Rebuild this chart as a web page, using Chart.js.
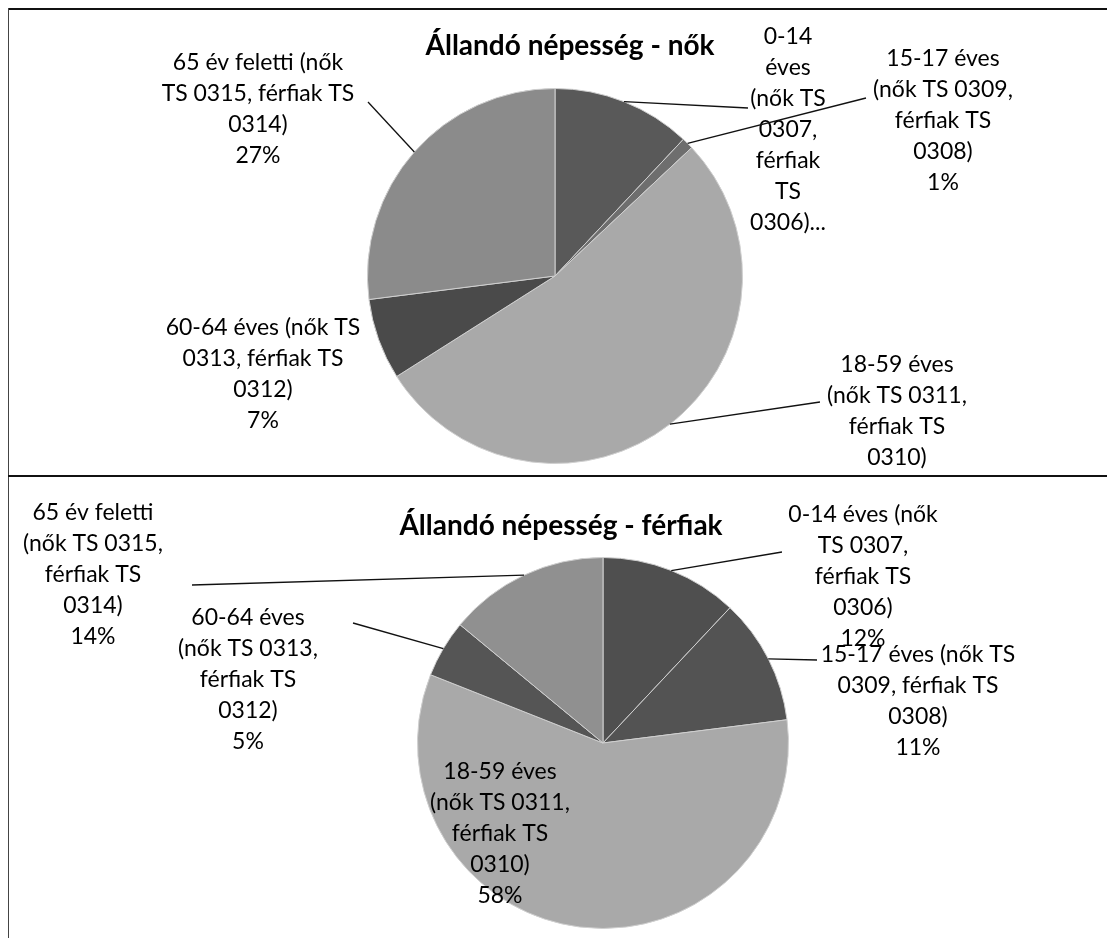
<!DOCTYPE html>
<html>
<head>
<meta charset="utf-8">
<script src="https://cdn.jsdelivr.net/npm/chart.js@4/dist/chart.umd.min.js"></script>
<style>
    body { margin: 0; background: #fff; }
    #page { position: relative; width: 1107px; height: 938px; overflow: hidden; background: #fff; }
    canvas { position: absolute; left: 0; }
    #nok { top: 0; }
    #ferfiak { top: 478px; }
    .rule { position: absolute; background: #111; }
</style>
</head>
<body>
<div id="page">
    <canvas id="nok" width="1107" height="476"></canvas>
    <canvas id="ferfiak" width="1107" height="460"></canvas>
    <div class="rule" style="left:8px; top:8px; width:1099px; height:2px;"></div>
    <div class="rule" style="left:8px; top:8px; width:1px; height:930px; background:#444;"></div>
    <div class="rule" style="left:8px; top:475px; width:1099px; height:2px;"></div>
</div>
<script>
// adatok
var korcsoportok = [
    '0-14 éves (nők TS 0307, férfiak TS 0306)',
    '15-17 éves (nők TS 0309, férfiak TS 0308)',
    '18-59 éves (nők TS 0311, férfiak TS 0310)',
    '60-64 éves (nők TS 0313, férfiak TS 0312)',
    '65 év feletti (nők TS 0315, férfiak TS 0314)'
];
var nokSzazalek = [12, 1, 53, 7, 27];
var ferfiakSzazalek = [12, 11, 58, 5, 14];

var nokSzinek = ['#595959', '#6e6e6e', '#a9a9a9', '#4a4a4a', '#8b8b8b'];
var ferfiakSzinek = ['#4f4f4f', '#535353', '#a9a9a9', '#555555', '#909090'];

// cimkek elhelyezese: szoveg kozepe, elso sor, szavak soronkent, vezetovonal vege
var nokCimkek = [
    { x: 788, y: 37, words: [1, 1, 2, 1, 1, 1, 1], line: [748, 108] },
    { x: 943, y: 59, words: [2, 3, 2, 1, 1], line: [866, 98] },
    { x: 897, y: 365, words: [2, 3, 2, 1, 1], line: [820, 402] },
    { x: 263, y: 328, words: [4, 3, 1, 1], line: null },
    { x: 258, y: 63, words: [4, 4, 1, 1], line: [368, 102] }
];
var ferfiakCimkek = [
    { x: 863, y: 37, words: [3, 2, 2, 1, 1], line: [782, 74] },
    { x: 918, y: 177, words: [4, 3, 1, 1], line: [817, 182] },
    { x: 500, y: 294, words: [2, 3, 2, 1, 1], line: null },
    { x: 248, y: 140, words: [2, 3, 2, 1, 1], line: [353, 145] },
    { x: 93, y: 35, words: [3, 3, 2, 1, 1], line: [192, 107] }
];

var sorMagassag = 31;

var calloutPlugin = {
    id: 'callouts',
    afterDraw: function(chart, args, opts) {
        var ctx = chart.ctx;
        var meta = chart.getDatasetMeta(0);
        var values = chart.data.datasets[0].data;
        var total = values.reduce(function(a, b) { return a + b; }, 0);

        ctx.save();
        ctx.fillStyle = '#000';
        ctx.textAlign = 'center';
        ctx.textBaseline = 'middle';
        ctx.font = 'bold 28px Lato';
        ctx.fillText(opts.title, opts.titleX, opts.titleY);

        ctx.font = '23px Lato';
        ctx.strokeStyle = '#111';
        ctx.lineWidth = 1.3;
        opts.labels.forEach(function(lab, i) {
            var arc = meta.data[i];
            if (lab.line) {
                var mid = (arc.startAngle + arc.endAngle) / 2;
                ctx.beginPath();
                ctx.moveTo(arc.x + Math.cos(mid) * arc.outerRadius, arc.y + Math.sin(mid) * arc.outerRadius);
                ctx.lineTo(lab.line[0], lab.line[1]);
                ctx.stroke();
            }
            var text = chart.data.labels[i] + ' ' + Math.round(values[i] / total * 100) + '%';
            var words = text.split(' ');
            var sorok = [];
            var k = 0;
            lab.words.forEach(function(n) {
                sorok.push(words.slice(k, k + n).join(' '));
                k += n;
            });
            if (k < words.length) {
                sorok[sorok.length - 1] += '...';
            }
            sorok.forEach(function(s, j) {
                ctx.fillText(s, lab.x, lab.y + j * sorMagassag);
            });
        });
        ctx.restore();
    }
};

function pieChart(id, values, colors, labels, title, titleX, titleY, padding) {
    return new Chart(document.getElementById(id).getContext('2d'), {
        type: 'pie',
        data: {
            labels: korcsoportok,
            datasets: [{
                data: values,
                backgroundColor: colors,
                borderColor: '#cfcfcf',
                borderWidth: 1
            }]
        },
        options: {
            responsive: false,
            animation: false,
            layout: { padding: padding },
            plugins: {
                legend: { display: false },
                tooltip: { enabled: false },
                callouts: { labels: labels, title: title, titleX: titleX, titleY: titleY }
            }
        },
        plugins: [calloutPlugin]
    });
}

var nokChart = pieChart('nok', nokSzazalek, nokSzinek, nokCimkek, 'Állandó népesség - nők', 570, 46,
    { left: 367, right: 364, top: 88, bottom: 12 });

var ferfiakChart = pieChart('ferfiak', ferfiakSzazalek, ferfiakSzinek, ferfiakCimkek, 'Állandó népesség - férfiak', 561, 48,
    { left: 417, right: 318, top: 79, bottom: 9 });
</script>
</body>
</html>
